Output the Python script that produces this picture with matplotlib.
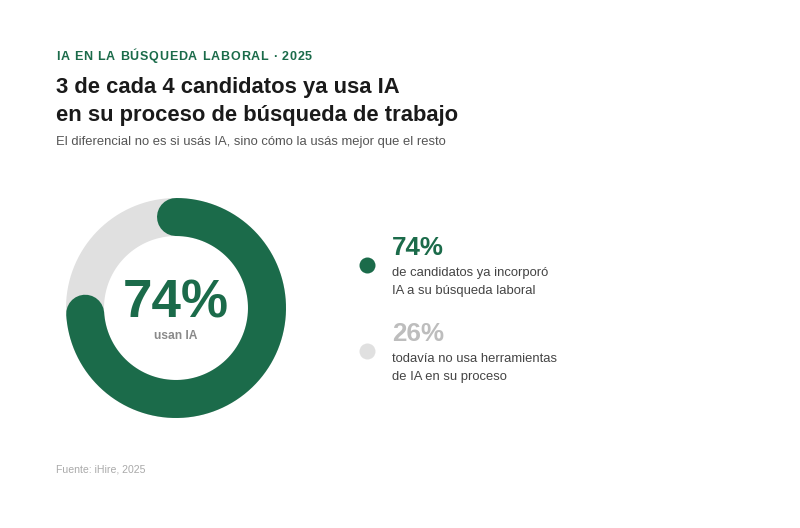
import numpy as np
import matplotlib
matplotlib.use("Agg")
import matplotlib.pyplot as plt

# --- data ---
labels = ["usan IA", "no usan IA"]
values = [74, 26]
legend_pcts = ["74%", "26%"]
legend_texts = [
    "de candidatos ya incorporó\nIA a su búsqueda laboral",
    "todavía no usa herramientas\nde IA en su proceso",
]
kicker = "IA EN LA BÚSQUEDA LABORAL · 2025"
title = "3 de cada 4 candidatos ya usa IA\nen su proceso de búsqueda de trabajo"
subtitle = "El diferencial no es si usás IA, sino cómo la usás mejor que el resto"
source = "Fuente: iHire, 2025"

GREEN = "#1b6b4a"
LIGHT = "#e0e0e0"

plt.rcParams['font.family'] = ['Liberation Sans', 'DejaVu Sans']

W, H = 800, 528
fig = plt.figure(figsize=(W / 100, H / 100), dpi=100)
ax = fig.add_axes([0, 0, 1, 1])
ax.set_xlim(0, W)
ax.set_ylim(H, 0)
ax.axis("off")

def px(v):
    # pixels -> points
    return v * 0.72

# --- kicker with letter spacing ---
renderer = fig.canvas.get_renderer()
x = 56
for ch in kicker:
    t = ax.text(x, 60, ch, fontsize=px(12.5), fontweight="bold", color=GREEN,
                ha="left", va="baseline")
    bb = t.get_window_extent(renderer)
    if ch == " ":
        w = 3.3
    else:
        w = bb.width
    x += w + 0.8

ax.text(56, 93, title.split("\n")[0], fontsize=px(22), fontweight="bold",
        color="#1a1a1a", ha="left", va="baseline")
ax.text(56, 121, title.split("\n")[1], fontsize=px(22), fontweight="bold",
        color="#1a1a1a", ha="left", va="baseline")
ax.text(56, 145, subtitle, fontsize=px(13), color="#555555",
        ha="left", va="baseline")

# --- donut ---
cx, cy, r, ring = 176, 308, 91, 38
theta = np.linspace(0, 2 * np.pi, 400)
ax.plot(cx + r * np.sin(theta), cy - r * np.cos(theta), color=LIGHT,
        lw=px(ring), solid_capstyle="butt", zorder=1)
frac = values[0] / sum(values)
theta = np.linspace(0, 2 * np.pi * frac, 400)
ax.plot(cx + r * np.sin(theta), cy - r * np.cos(theta), color=GREEN,
        lw=px(ring), solid_capstyle="round", zorder=2)

ax.text(cx, 318, f"{values[0]}%", fontsize=px(53), fontweight="bold",
        color=GREEN, ha="center", va="baseline")
ax.text(cx, 339, labels[0], fontsize=px(12), fontweight="bold",
        color="#8a8a8a", ha="center", va="baseline")

# --- legend ---
dot_y = [265, 351]
pct_y = [255, 341]
colors = [GREEN, LIGHT]
pct_colors = [GREEN, "#bdbdbd"]
for i in range(2):
    ax.scatter([367], [dot_y[i]], s=(px(16)) ** 2, color=colors[i], zorder=3,
               linewidths=0)
    ax.text(392, pct_y[i], legend_pcts[i], fontsize=px(26), fontweight="bold",
            color=pct_colors[i], ha="left", va="baseline")
    for j, line in enumerate(legend_texts[i].split("\n")):
        ax.text(392, pct_y[i] + 21 + j * 18, line, fontsize=px(13),
                color="#444444", ha="left", va="baseline")

ax.text(56, 473, source, fontsize=px(10.5), color="#aaaaaa",
        ha="left", va="baseline")

fig.savefig("out.png", dpi=100, facecolor="white")
